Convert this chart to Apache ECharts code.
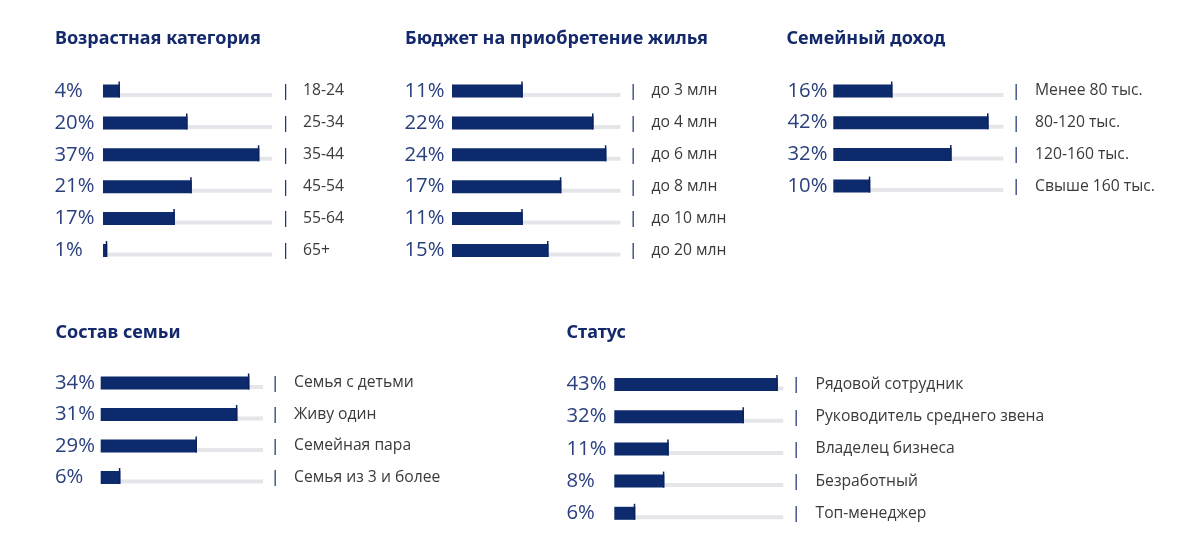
<!DOCTYPE html>
<html><head><meta charset="utf-8">
<script src="https://cdn.jsdelivr.net/npm/echarts@6/dist/echarts.min.js"></script>
<style>html,body{margin:0;padding:0;background:#fff}#c{width:1200px;height:555px}</style>
</head><body><div id="c"></div>
<script>
// ---- Data ----
const ageTitle = 'Возрастная категория';
const ageCats = ['18-24', '25-34', '35-44', '45-54', '55-64', '65+'];
const agePct = [4, 20, 37, 21, 17, 1];

const budgetTitle = 'Бюджет на приобретение жилья';
const budgetCats = ['до 3 млн', 'до 4 млн', 'до 6 млн', 'до 8 млн', 'до 10 млн', 'до 20 млн'];
const budgetPct = [11, 22, 24, 17, 11, 15];

const incomeTitle = 'Семейный доход';
const incomeCats = ['Менее 80 тыс.', '80-120 тыс.', '120-160 тыс.', 'Свыше 160 тыс.'];
const incomePct = [16, 42, 32, 10];

const familyTitle = 'Состав семьи';
const familyCats = ['Семья с детьми', 'Живу один', 'Семейная пара', 'Семья из 3 и более'];
const familyPct = [34, 31, 29, 6];
const familyBar = [91.6, 84.2, 59.3, 12.1];   // bar fill, % of track

const statusTitle = 'Статус';
const statusCats = ['Рядовой сотрудник', 'Руководитель среднего звена', 'Владелец бизнеса', 'Безработный', 'Топ-менеджер'];
const statusPct = [43, 32, 11, 8, 6];
const statusBar = [96.7, 76.7, 32.2, 29.6, 12.4]; // bar fill, % of track

// ---- Layout / style ----
const NAVY = '#0d2a6c', TITLE = '#13296b', PCT = '#2b417f', TXT = '#3a3a3a', TRACK = '#e5e6ea';
const FONT = '"Open Sans", "Noto Sans", sans-serif';
const TFONT = '"Noto Sans", "Open Sans", sans-serif';

const panels = [
  {title: ageTitle, cats: ageCats, pct: agePct, bar: agePct, max: 40,
   titleX: 55, titleY: 30, pctX: 54.5, left: 103, width: 169, first: 91, pitch: 31.9, sepX: 281, labelX: 303},
  {title: budgetTitle, cats: budgetCats, pct: budgetPct, bar: budgetPct, max: 26.2,
   titleX: 405, titleY: 30, pctX: 404.5, left: 452, width: 168.5, first: 91, pitch: 31.9, sepX: 628.5, labelX: 651.5},
  {title: incomeTitle, cats: incomeCats, pct: incomePct, bar: incomePct, max: 46,
   titleX: 786.5, titleY: 30, pctX: 787.5, left: 833.3, width: 170, first: 91, pitch: 31.7, sepX: 1011.5, labelX: 1035},
  {title: familyTitle, cats: familyCats, pct: familyPct, bar: familyBar, max: 100,
   titleX: 55.5, titleY: 324, pctX: 55, left: 100.7, width: 162.3, first: 383, pitch: 31.5, sepX: 270.5, labelX: 294},
  {title: statusTitle, cats: statusCats, pct: statusPct, bar: statusBar, max: 100,
   titleX: 566.5, titleY: 324, pctX: 566.5, left: 614.3, width: 169, first: 384.5, pitch: 32.2, sepX: 791.5, labelX: 815.5}
];

const option = {
  animation: false,
  backgroundColor: '#fff',
  title: [], grid: [], xAxis: [], yAxis: [], series: []
};

panels.forEach((p, i) => {
  const n = p.cats.length;
  option.title.push({
    text: p.title, left: p.titleX, top: p.titleY, padding: 0,
    textStyle: {fontFamily: TFONT, fontWeight: 'bold', fontSize: 18, color: TITLE}
  });
  option.grid.push({
    left: p.left, width: p.width,
    top: p.first - p.pitch / 2, height: p.pitch * n
  });
  option.xAxis.push({
    gridIndex: i, type: 'value', min: 0, max: p.max, show: false
  });
  option.yAxis.push({
    gridIndex: i, type: 'category', inverse: true, data: p.cats,
    axisLine: {show: false}, axisTick: {show: false}, splitLine: {show: false},
    axisLabel: {
      margin: p.left - p.pctX, align: 'left', verticalAlign: 'middle',
      fontFamily: FONT, fontSize: 20.3, color: PCT,
      formatter: (v, idx) => p.pct[idx] + '%'
    }
  });
  option.yAxis.push({
    gridIndex: i, type: 'category', inverse: true, data: p.cats, position: 'right',
    axisLine: {show: false}, axisTick: {show: false}, splitLine: {show: false},
    axisLabel: {
      margin: p.sepX - (p.left + p.width), align: 'left', verticalAlign: 'middle',
      formatter: v => '{s||}{t|' + v + '}',
      rich: {
        s: {width: p.labelX - p.sepX, fontFamily: FONT, fontSize: 17, color: NAVY, align: 'left'},
        t: {fontFamily: FONT, fontSize: 15.7, color: TXT}
      }
    }
  });
  const maxV = p.max;
  option.series.push({
    type: 'custom', xAxisIndex: i, yAxisIndex: i * 2,
    encode: {x: 0, y: 1},
    data: p.bar.map((v, k) => [v, k]),
    renderItem: (params, api) => {
      const k = api.value(1);
      const s = api.coord([0, k]);
      const e = api.coord([api.value(0), k]);
      const t = api.coord([maxV, k]);
      const c = s[1];
      return {
        type: 'group',
        children: [
          {type: 'rect', shape: {x: s[0], y: c + 2, width: t[0] - s[0], height: 4}, style: {fill: TRACK}},
          {type: 'rect', shape: {x: s[0], y: c - 6.5, width: e[0] - s[0], height: 13}, style: {fill: NAVY}},
          {type: 'rect', shape: {x: e[0] - 1.5, y: c - 9.5, width: 1.5, height: 16}, style: {fill: '#0a2260'}}
        ]
      };
    }
  });
});

const chart = echarts.init(document.getElementById('c'), null, {renderer: 'canvas'});
chart.setOption(option);
</script>
</body></html>
